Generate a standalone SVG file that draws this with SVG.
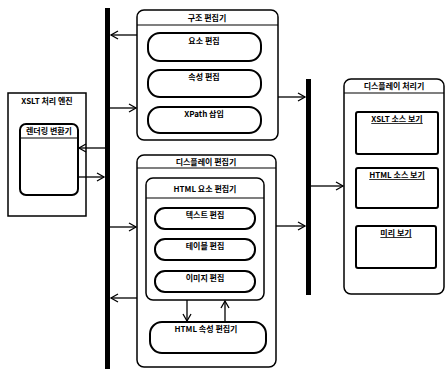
<svg xmlns="http://www.w3.org/2000/svg" width="446" height="369" viewBox="0 0 446 369">
<defs>
<marker id="ah" markerWidth="10" markerHeight="10" refX="8" refY="5" orient="auto" markerUnits="userSpaceOnUse">
<path d="M1,1 L8,5 L1,9" fill="none" stroke="#000" stroke-width="1.3"/>
</marker>
</defs>
<style>
.box{fill:#fff;stroke:#000;stroke-width:1.5}
.pill{fill:#fff;stroke:#000;stroke-width:2}
.hd{stroke:#000;stroke-width:1.2}
.t{font-family:"Noto Sans CJK KR","Liberation Sans",sans-serif;font-size:8px;font-weight:bold;text-anchor:middle;fill:#000}
.u{text-decoration:underline}
.bus{fill:#000}
.c{fill:none;stroke:#000;stroke-width:1.3;marker-end:url(#ah)}
</style>
<rect width="446" height="369" fill="#fff"/>

<g id="bus-left"><rect class="bus" x="105" y="8" width="5" height="361"/></g>
<g id="bus-right"><rect class="bus" x="306" y="79" width="5" height="216"/></g>

<g id="xslt-engine">
<rect class="box" x="8" y="93" width="78" height="123"/>
<text class="t" x="47" y="104">XSLT 처리 엔진</text>
<g id="renderer">
<rect class="pill" x="20" y="124" width="58" height="71" rx="6"/>
<line class="hd" x1="20" y1="138" x2="78" y2="138"/>
<text class="t" x="49" y="134">렌더링 변환기</text>
</g>
</g>

<g id="struct-editor">
<rect class="box" x="137" y="10" width="141" height="130" rx="7"/>
<line class="hd" x1="137" y1="25" x2="278" y2="25"/>
<text class="t" x="207" y="21">구조 편집기</text>
<g id="elem-edit"><rect class="pill" x="148" y="33" width="113" height="28" rx="12"/><text class="t" x="204" y="44">요소 편집</text></g>
<g id="attr-edit"><rect class="pill" x="148" y="70" width="113" height="27" rx="12"/><text class="t" x="204" y="80">속성 편집</text></g>
<g id="xpath-insert"><rect class="pill" x="148" y="107" width="113" height="26" rx="12"/><text class="t" x="204" y="117">XPath 삽입</text></g>
</g>

<g id="display-editor">
<rect class="box" x="137" y="155" width="139" height="212" rx="7"/>
<line class="hd" x1="137" y1="168" x2="276" y2="168"/>
<text class="t" x="206" y="165">디스플레이 편집기</text>
<g id="html-elem-editor">
<rect class="box" x="146" y="178" width="118" height="122" rx="7"/>
<line class="hd" x1="146" y1="198" x2="264" y2="198"/>
<text class="t" x="205" y="192">HTML 요소 편집기</text>
<g id="text-edit"><rect class="pill" x="155" y="208" width="100" height="21" rx="10"/><text class="t" x="205" y="218">텍스트 편집</text></g>
<g id="table-edit"><rect class="pill" x="155" y="239" width="100" height="21" rx="10"/><text class="t" x="205" y="249">테이블 편집</text></g>
<g id="image-edit"><rect class="pill" x="155" y="271" width="100" height="21" rx="10"/><text class="t" x="205" y="281">이미지 편집</text></g>
</g>
<g id="html-attr-editor"><rect class="pill" x="150" y="322" width="116" height="31" rx="12"/><text class="t" x="206" y="332">HTML 속성 편집기</text></g>
</g>

<g id="display-proc">
<rect class="box" x="344" y="79" width="100" height="215" rx="7"/>
<line class="hd" x1="344" y1="93" x2="444" y2="93"/>
<text class="t" x="394" y="89">디스플레이 처리기</text>
<g id="xslt-src"><rect class="pill" x="356" y="112" width="82" height="42" rx="2"/><text class="t u" x="397" y="122">XSLT 소스 보기</text></g>
<g id="html-src"><rect class="pill" x="356" y="168" width="82" height="40" rx="2"/><text class="t u" x="397" y="178">HTML 소스 보기</text></g>
<g id="preview"><rect class="pill" x="356" y="226" width="80" height="42" rx="2"/><text class="t u" x="396" y="236">미리 보기</text></g>
</g>

<g id="connectors">
<path class="c" d="M137,35 L111,35"/>
<path class="c" d="M110,108 L136,108"/>
<path class="c" d="M105,148 L79,148"/>
<path class="c" d="M78,177 L104,177"/>
<path class="c" d="M110,227 L136,227"/>
<path class="c" d="M137,298 L111,298"/>
<path class="c" d="M278,97 L305,97"/>
<path class="c" d="M276,226 L305,226"/>
<path class="c" d="M311,186 L343,186"/>
<path class="c" d="M187,300 L187,321"/>
<path class="c" d="M225,322 L225,301"/>
</g>
</svg>
